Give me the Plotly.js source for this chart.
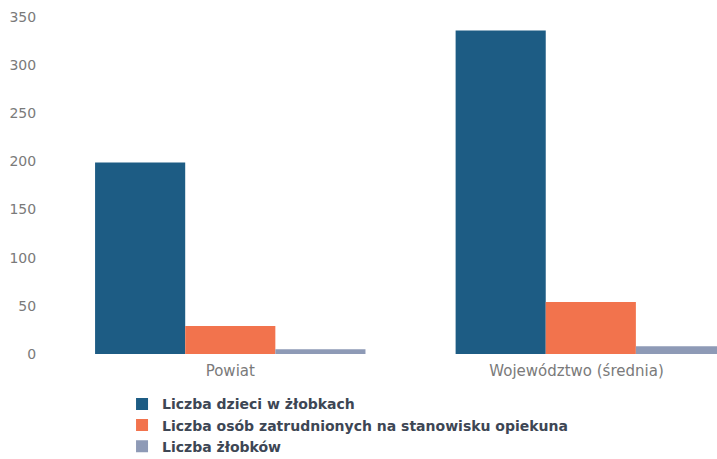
<!DOCTYPE html>
<html>
<head>
<meta charset="utf-8">
<script src="https://cdn.plot.ly/plotly-3.0.1.min.js"></script>
<style>html,body{margin:0;padding:0;background:#fff;}#chart{width:717px;height:459px;}</style>
</head>
<body>
<div id="chart"></div>
<script>
const categories = ["Powiat", "Województwo (średnia)"];
const seriesNames = ["Liczba dzieci w żłobkach", "Liczba osób zatrudnionych na stanowisku opiekuna", "Liczba żłobków"];
const dzieci = [199, 336];
const zatrudnieni = [29, 54];
const zlobki = [5, 8];
const yTicks = [0, 50, 100, 150, 200, 250, 300, 350];
const colors = ["#1d5c84", "#f2734d", "#8e9ab6"];

const values = [dzieci, zatrudnieni, zlobki];
const traces = values.map((v, i) => ({
  type: "bar",
  name: seriesNames[i],
  x: categories,
  y: v,
  marker: {color: colors[i], line: {width: 0}},
  hoverinfo: "x+y+name"
}));

const layout = {
  width: 717, height: 459,
  margin: {l: 50, r: 0, t: 17, b: 105, autoexpand: false},
  paper_bgcolor: "#fff", plot_bgcolor: "#fff",
  barmode: "group", bargap: 0.25, bargroupgap: 0,
  showlegend: true,
  font: {family: "DejaVu Sans, sans-serif", size: 13, color: "#666"},
  xaxis: {
    type: "category",
    range: [-0.5, 1.35],
    showgrid: false, zeroline: false, showline: false,
    ticks: "outside", ticklen: 3, tickcolor: "rgba(0,0,0,0)",
    tickfont: {family: "DejaVu Sans, sans-serif", size: 15, color: "#7a7a7a"},
    tickvals: categories,
    ticktext: ["Powiat", "Województwo (średnia)\u00a0\u00a0\u00a0\u00a0\u00a0\u00a0"]
  },
  yaxis: {
    range: [0, 350],
    tickvals: yTicks,
    showgrid: false, zeroline: false, showline: false,
    ticks: "outside", ticklen: 10, tickcolor: "rgba(0,0,0,0)",
    tickfont: {family: "DejaVu Sans, sans-serif", size: 14, color: "#7a7a7a"}
  },
  legend: {
    orientation: "v",
    x: 0.108, xanchor: "left",
    yref: "container",
    y: 0.154, yanchor: "top",
    traceorder: "normal",
    font: {family: "DejaVu Sans, sans-serif", size: 14, color: "#3d4654", weight: "bold"},
    itemwidth: 30,
    tracegroupgap: 0,
    bgcolor: "rgba(0,0,0,0)"
  }
};

Plotly.newPlot("chart", traces, layout, {displayModeBar: false, staticPlot: true});
</script>
</body>
</html>
